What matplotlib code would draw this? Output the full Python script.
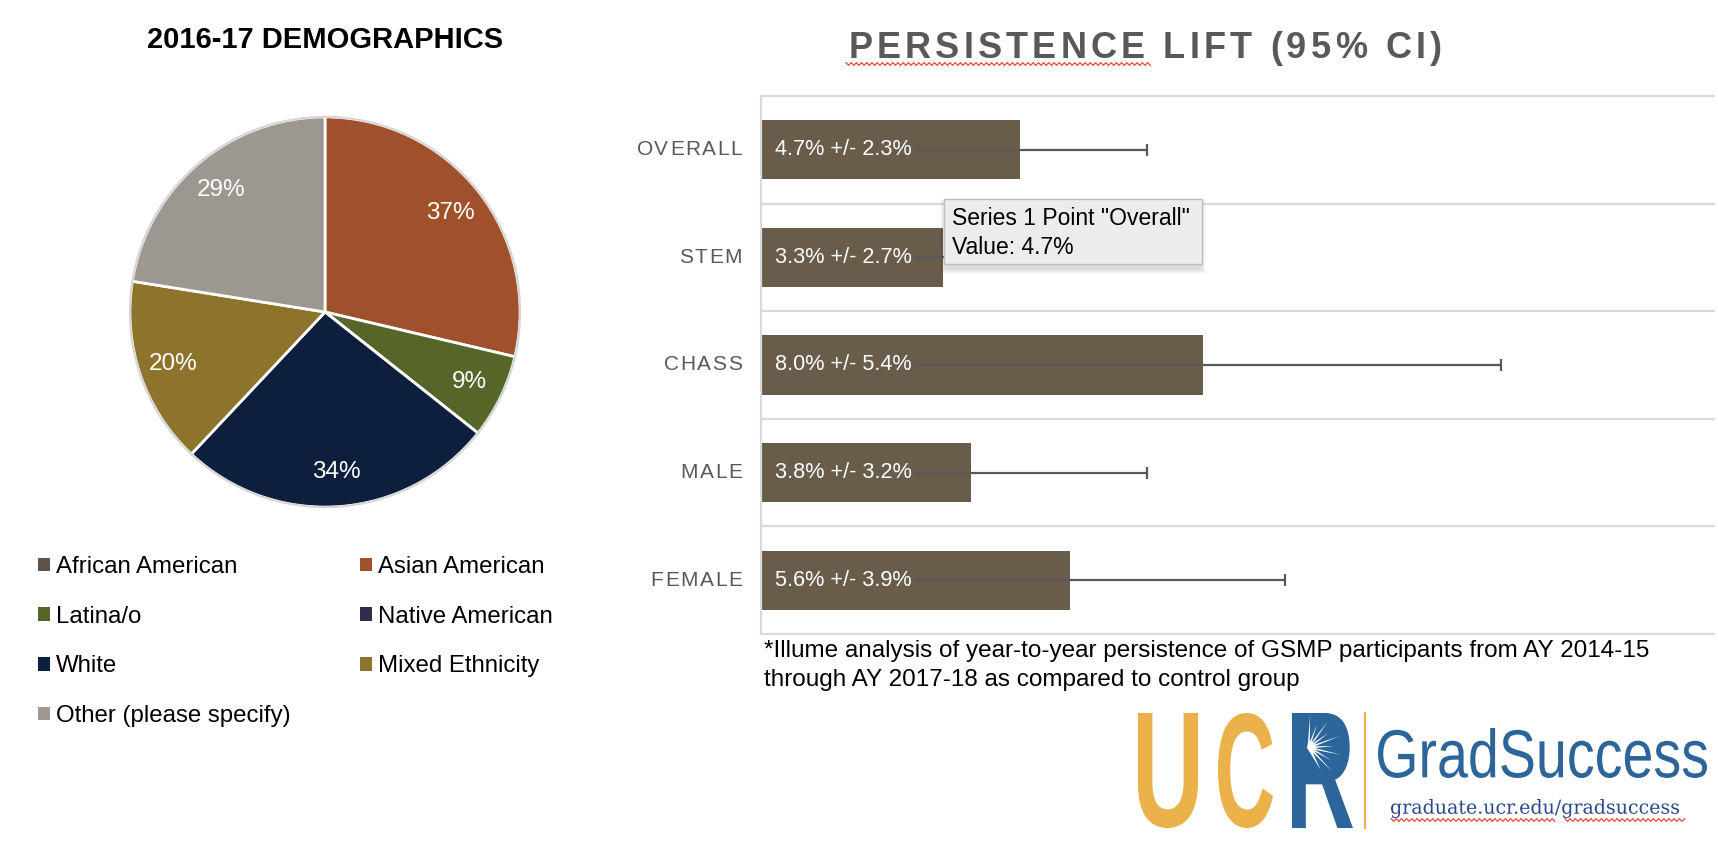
import numpy as np
import matplotlib
matplotlib.use('Agg')
import matplotlib.pyplot as plt
import matplotlib.transforms as mtransforms
from matplotlib.font_manager import FontProperties
from matplotlib.patches import Patch, PathPatch, Polygon, Rectangle, Circle
from matplotlib.textpath import TextPath

W, H = 1718, 850

# pie data (labels show the raw shares, slices are drawn from them)
groups = ['African American', 'Asian American', 'Latina/o', 'Native American',
          'White', 'Mixed Ethnicity', 'Other (please specify)']
group_pct = [0, 37, 9, 0, 34, 20, 29]
group_colors = ['#5E5249', '#A0502A', '#566628', '#302C4E',
                '#0E1F3D', '#8E732D', '#9D9791']

# persistence lift data
categories = ['OVERALL', 'STEM', 'CHASS', 'MALE', 'FEMALE']
lift = [4.7, 3.3, 8.0, 3.8, 5.6]
ci = [2.3, 2.7, 5.4, 3.2, 3.9]

footnote = ['*Illume analysis of year-to-year persistence of GSMP participants from AY 2014-15',
            'through AY 2017-18 as compared to control group']

BAR = '#6A5C4B'
GRAY_TXT = '#595959'
GRID = '#D9D9D9'
GOLD = '#EBB14A'
BLUE = '#2C6599'
RED = '#E84A3C'

plt.rcParams['font.family'] = ['Liberation Sans', 'DejaVu Sans']

fig = plt.figure(figsize=(W / 100, H / 100), dpi=100)
fig.patch.set_facecolor('white')
renderer = fig.canvas.get_renderer()


def px_axes(x0, y0, x1, y1):
    """axes from pixel box (image coords, y down)"""
    return fig.add_axes([x0 / W, 1 - y1 / H, (x1 - x0) / W, (y1 - y0) / H])


def tracked(host, s, x, y, transform, track, ha, fp, **kw):
    """text with extra letter spacing (track in pixels)"""
    def width(t):
        return renderer.get_text_width_height_descent(t, fp, ismath=False)[0]
    base = width('HH')
    adv = [width('H' + c + 'H') - base for c in s]
    total = sum(adv) + track * (len(s) - 1)
    pen = {'left': 0, 'center': -total / 2, 'right': -total}[ha]
    for c, a in zip(s, adv):
        if c != ' ':
            host.text(x, y, c, fontproperties=fp, ha='left',
                      transform=transform + mtransforms.Affine2D().translate(pen, 0),
                      **kw)
        pen += a + track


# ---------------- pie ----------------
ax_pie = px_axes(126, 113, 524, 511)
total = sum(group_pct)
wedges, _, autotexts = ax_pie.pie(
    group_pct, colors=group_colors, startangle=90, counterclock=False,
    autopct=lambda p: '{:.0f}%'.format(p * total / 100) if p > 0 else '',
    pctdistance=0.82, textprops=dict(color='white', fontsize=17.5),
    wedgeprops=dict(edgecolor='white', linewidth=2))
ax_pie.add_patch(Circle((0, 0), 1.0, fill=False, ec='#D5D5D5', lw=1.5, zorder=5))
ax_pie.set_xlim(-1.02, 1.02)
ax_pie.set_ylim(-1.02, 1.02)
ax_pie.set_aspect('equal')

fig.text(325 / W, 1 - 40 / H, '2016-17 DEMOGRAPHICS', ha='center', va='center',
         fontsize=21, fontweight='bold', color='black')

# legend is row-major in the reference, matplotlib fills columns first
order = [0, 2, 4, 6, 1, 3, 5]
handles = [Patch(facecolor=group_colors[i]) for i in order]
fig.legend(handles, [groups[i] for i in order], loc='upper left',
           bbox_to_anchor=(38 / W, 1 - 556 / H), ncol=2, frameon=False,
           fontsize=17.3, handlelength=0.5, handleheight=0.5,
           handletextpad=0.25, columnspacing=2.9, labelspacing=1.15,
           borderpad=0, borderaxespad=0)

# ---------------- bars ----------------
ax = px_axes(761, 96, 1715, 634)
y = np.arange(len(categories))
ax.barh(y, lift, height=0.55, color=BAR, zorder=2)
ax.errorbar(lift, y, xerr=ci, fmt='none', ecolor=GRAY_TXT, elinewidth=1.6,
            capsize=4.3, capthick=1.6, zorder=3)
ax.set_xlim(0, 17.28)
ax.set_ylim(len(categories) - 0.5, -0.5)
ax.hlines(np.arange(len(categories) + 1) - 0.5, 0, 1,
          transform=ax.get_yaxis_transform(), colors=GRID, lw=1.6,
          clip_on=False, zorder=1)
for side in ['top', 'right', 'bottom']:
    ax.spines[side].set_visible(False)
ax.spines['left'].set_color(GRID)
ax.spines['left'].set_linewidth(1.6)
ax.set_xticks([])
ax.set_yticks([])
ax.patch.set_alpha(0)

lab_tr = ax.get_yaxis_transform() + mtransforms.Affine2D().translate(14, 0)
for yi, v, e in zip(y, lift, ci):
    ax.text(0, yi, '{:.1f}% +/- {:.1f}%'.format(v, e), transform=lab_tr,
            ha='left', va='center', color='white', fontsize=15.6,
            bbox=dict(fc=BAR, ec='none', pad=1.5), zorder=4)

cat_fp = FontProperties(family=['Liberation Sans', 'DejaVu Sans'], size=15)
for yi, name in zip(y, categories):
    tracked(ax, name, 0, yi,
            ax.get_yaxis_transform() + mtransforms.Affine2D().translate(-19, 0),
            1.5, 'right', cat_fp, va='center', color=GRAY_TXT)

# ---------------- overlay: titles, tooltip, footnote, logo ----------------
ov = fig.add_axes([0, 0, 1, 1])
ov.set_xlim(0, W)
ov.set_ylim(H, 0)
ov.set_autoscale_on(False)
ov.axis('off')
ov.set_zorder(5)

title_fp = FontProperties(family=['Liberation Sans', 'DejaVu Sans'], size=26,
                          weight='bold')
tracked(ov, 'PERSISTENCE LIFT (95% CI)', 1145, 58, ov.transData, 4.2, 'center',
        title_fp, va='baseline', color=GRAY_TXT)


def squiggle(x0, x1, yy):
    xs = np.arange(x0, x1, 2.6)
    ys = yy + np.where(np.arange(len(xs)) % 2 == 0, -1.4, 1.4)
    ov.plot(xs, ys, color=RED, lw=0.9)


squiggle(846, 1152, 64)

# tooltip with soft shadow
for k in range(6, 0, -1):
    ov.add_patch(Rectangle((944 - k + 2, 199 - k + 6), 258 + 2 * k - 4, 65 + 2 * k - 2,
                           fc='black', ec='none', alpha=0.025))
ov.add_patch(Rectangle((944, 199), 258, 65, fc='#ECECEC', ec='#BEBEBE', lw=1))
ov.text(952, 218, 'Series 1 Point "Overall"', ha='left', va='center',
        fontsize=16.5, color='black')
ov.text(952, 247, 'Value: 4.7%', ha='left', va='center', fontsize=16.5,
        color='black')

ov.text(764, 651, footnote[0], ha='left', va='center', fontsize=17.5, color='black')
ov.text(764, 680, footnote[1], ha='left', va='center', fontsize=17.5, color='black')


def fit_path(s, box, fp):
    path = TextPath((0, 0), s, size=100, prop=fp)
    ext = path.get_extents()
    x0, y0, x1, y1 = box
    tr = (mtransforms.Affine2D().translate(-ext.x0, -ext.y0)
          .scale((x1 - x0) / ext.width, -(y1 - y0) / ext.height)
          .translate(x0, y1))
    return path, tr


bold_fp = FontProperties(family='Liberation Sans', weight='bold')
for ch, box in [('U', (1138, 713, 1198, 828)), ('C', (1218, 713, 1273, 828))]:
    p, tr = fit_path(ch, box, bold_fp)
    ov.add_patch(PathPatch(p, transform=tr + ov.transData, fc=GOLD, ec='none'))

# R with a solid bowl and a white starburst
p, tr = fit_path('R', (1292, 713, 1353, 828), bold_fp)
r_parts = [Polygon(tr.transform(poly), closed=True, fc=BLUE, ec='none')
           for poly in p.to_polygons()]
for part in r_parts:
    ov.add_patch(part)
cx, cy = 1309, 748
ang = np.deg2rad(np.linspace(-88, 62, 10))
star = []
for i, a in enumerate(ang):
    r_out = 33 if i % 2 == 0 else 25
    star.append((cx + 6 * np.cos(a - 0.2), cy + 6 * np.sin(a - 0.2)))
    star.append((cx + r_out * np.cos(a), cy + r_out * np.sin(a)))
star.append((cx + 6 * np.cos(ang[-1] + 0.2), cy + 6 * np.sin(ang[-1] + 0.2)))
star.append((cx - 2, cy))
star_patch = Polygon(star, closed=True, fc='white', ec='none')
ov.add_patch(star_patch)
star_patch.set_clip_path(r_parts[0])

ov.plot([1365, 1365], [713, 828], color=GOLD, lw=1.5)

p, tr = fit_path('GradSuccess', (1378, 728, 1707, 778),
                 FontProperties(family='Liberation Sans'))
ov.add_patch(PathPatch(p, transform=tr + ov.transData, fc=BLUE, ec='none'))

p, tr = fit_path('graduate.ucr.edu/gradsuccess', (1391, 799, 1679, 818),
                 FontProperties(family='DejaVu Serif'))
ov.add_patch(PathPatch(p, transform=tr + ov.transData, fc='#2B4A8E', ec='none'))
squiggle(1391, 1555, 820)
squiggle(1565, 1685, 820)

fig.savefig('out.png', dpi=100, facecolor='white')
